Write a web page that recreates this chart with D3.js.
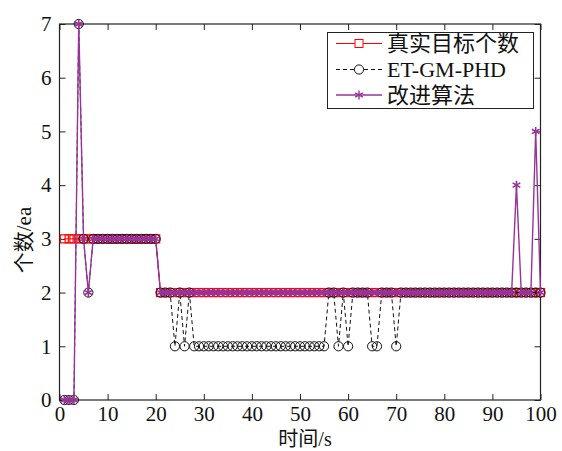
<!DOCTYPE html>
<html>
<head>
<meta charset="utf-8">
<script src="https://cdn.jsdelivr.net/npm/d3@7"></script>
<style>
body{margin:0;background:#fff;}
svg text{font-family:"Liberation Serif","Times New Roman","Noto Sans CJK SC",serif;fill:#111;}
</style>
</head>
<body>
<div class="visHolder"></div>
<script>
// time steps and counts
const times=d3.range(1,101);
const trueCount=[
3,3,3,3,3,3,3,3,3,3,
3,3,3,3,3,3,3,3,3,3,
2,2,2,2,2,2,2,2,2,2,
2,2,2,2,2,2,2,2,2,2,
2,2,2,2,2,2,2,2,2,2,
2,2,2,2,2,2,2,2,2,2,
2,2,2,2,2,2,2,2,2,2,
2,2,2,2,2,2,2,2,2,2,
2,2,2,2,2,2,2,2,2,2,
2,2,2,2,2,2,2,2,2,2];
const etgm=[
0,0,0,7,3,2,3,3,3,3,
3,3,3,3,3,3,3,3,3,3,
2,2,2,1,2,1,2,1,1,1,
1,1,1,1,1,1,1,1,1,1,
1,1,1,1,1,1,1,1,1,1,
1,1,1,1,1,2,2,1,2,1,
2,2,2,2,1,1,2,2,2,1,
2,2,2,2,2,2,2,2,2,2,
2,2,2,2,2,2,2,2,2,2,
2,2,2,2,2,2,2,2,2,2];
const improved=[
0,0,0,7,3,2,3,3,3,3,
3,3,3,3,3,3,3,3,3,3,
2,2,2,2,2,2,2,2,2,2,
2,2,2,2,2,2,2,2,2,2,
2,2,2,2,2,2,2,2,2,2,
2,2,2,2,2,2,2,2,2,2,
2,2,2,2,2,2,2,2,2,2,
2,2,2,2,2,2,2,2,2,2,
2,2,2,2,2,2,2,2,2,2,
2,2,2,2,4,2,2,2,5,2];
const xTicks=[0,10,20,30,40,50,60,70,80,90,100];
const yTicks=[0,1,2,3,4,5,6,7];
const legendNames=["真实目标个数","ET-GM-PHD","改进算法"];

const W=562,H=451,pL=59.5,pR=540.5,pT=24,pB=400;
const purple="#993399";

const svg=d3.select(".visHolder").append("svg")
.attr("width",W).attr("height",H);

const x=d3.scaleLinear().domain([0,100]).range([pL,pR]);
const y=d3.scaleLinear().domain([0,7]).range([pB,pT]);

// frame + ticks on all four sides (inside)
svg.append("rect").attr("x",pL).attr("y",pT)
.attr("width",pR-pL).attr("height",pB-pT)
.attr("fill","#fff").attr("stroke","#222").attr("stroke-width",1.2);

const xa=svg.append("g").attr("transform","translate(0,"+pB+")")
.call(d3.axisBottom(x).tickValues(xTicks).tickFormat(d3.format("d")).tickSizeInner(-6).tickSizeOuter(0).tickPadding(6));
const xt=svg.append("g").attr("transform","translate(0,"+pT+")")
.call(d3.axisTop(x).tickValues(xTicks).tickSizeInner(-6).tickSizeOuter(0).tickFormat(""));
const ya=svg.append("g").attr("transform","translate("+pL+",0)")
.call(d3.axisLeft(y).tickValues(yTicks).tickFormat(d3.format("d")).tickSizeInner(-6).tickSizeOuter(0).tickPadding(8));
const yr=svg.append("g").attr("transform","translate("+pR+",0)")
.call(d3.axisRight(y).tickValues(yTicks).tickSizeInner(-6).tickSizeOuter(0).tickFormat(""));
[xa,xt,ya,yr].forEach(g=>{
  g.select(".domain").remove();
  g.selectAll("line").attr("stroke","#222");
  g.selectAll("text").style("font-size","21px").attr("fill","#111");
});

// series
function series(vals,color,dash,width){
  const line=d3.line().x((d,i)=>x(times[i])).y(d=>y(d));
  svg.append("path").datum(vals).attr("d",line)
  .attr("fill","none").attr("stroke",color).attr("stroke-width",width)
  .attr("stroke-dasharray",dash);
}
function squares(vals){
  svg.append("g").selectAll("rect").data(vals).join("rect")
  .attr("x",(d,i)=>x(times[i])-4).attr("y",d=>y(d)-4)
  .attr("width",8).attr("height",8)
  .attr("fill","none").attr("stroke","#f00").attr("stroke-width",1.2);
}
function circles(vals){
  svg.append("g").selectAll("circle").data(vals).join("circle")
  .attr("cx",(d,i)=>x(times[i])).attr("cy",d=>y(d)).attr("r",4.6)
  .attr("fill","none").attr("stroke","#111").attr("stroke-width",1);
}
const star=d3.symbol().type(d3.symbolAsterisk).size(55);
function stars(vals){
  svg.append("g").selectAll("path").data(vals).join("path")
  .attr("transform",(d,i)=>"translate("+x(times[i])+","+y(d)+")")
  .attr("d",star).attr("fill","none").attr("stroke",purple).attr("stroke-width",1.6);
}

series(trueCount,"#f00",null,1);
squares(trueCount);
series(etgm,"#111","4,3",1);
circles(etgm);
series(improved,purple,null,1.4);
stars(improved);

// axis labels
svg.append("text").attr("x",305).attr("y",446).attr("text-anchor","middle")
.style("font-size","20px").text("时间/s");
svg.append("text").attr("transform","translate(31,240) rotate(-90)")
.attr("text-anchor","middle").style("font-size","21px").text("个数/ea");

// legend
const lg=svg.append("g");
lg.append("rect").attr("x",327.5).attr("y",32.5).attr("width",206).attr("height",76)
.attr("fill","#fff").attr("stroke","#222").attr("stroke-width",1);
const rows=[43.5,69.5,95];
const styles=[
  {c:"#f00",dash:null,w:1},
  {c:"#111",dash:"4,3",w:1},
  {c:purple,dash:null,w:1.3}
];
rows.forEach((ry,i)=>{
  lg.append("line").attr("x1",336).attr("x2",382).attr("y1",ry).attr("y2",ry)
  .attr("stroke",styles[i].c).attr("stroke-width",styles[i].w).attr("stroke-dasharray",styles[i].dash);
  if(i===0) lg.append("rect").attr("x",355).attr("y",ry-4).attr("width",8).attr("height",8)
    .attr("fill","#fff").attr("stroke","#f00");
  if(i===1) lg.append("circle").attr("cx",359).attr("cy",ry).attr("r",4.6)
    .attr("fill","#fff").attr("stroke","#111");
  if(i===2) lg.append("path").attr("transform","translate(359,"+ry+")").attr("d",star)
    .attr("fill","none").attr("stroke",purple).attr("stroke-width",1.4);
  lg.append("text").attr("x",387).attr("y",ry).attr("dy","0.35em")
  .style("font-size","22px").text(legendNames[i]);
});
</script>
</body>
</html>
